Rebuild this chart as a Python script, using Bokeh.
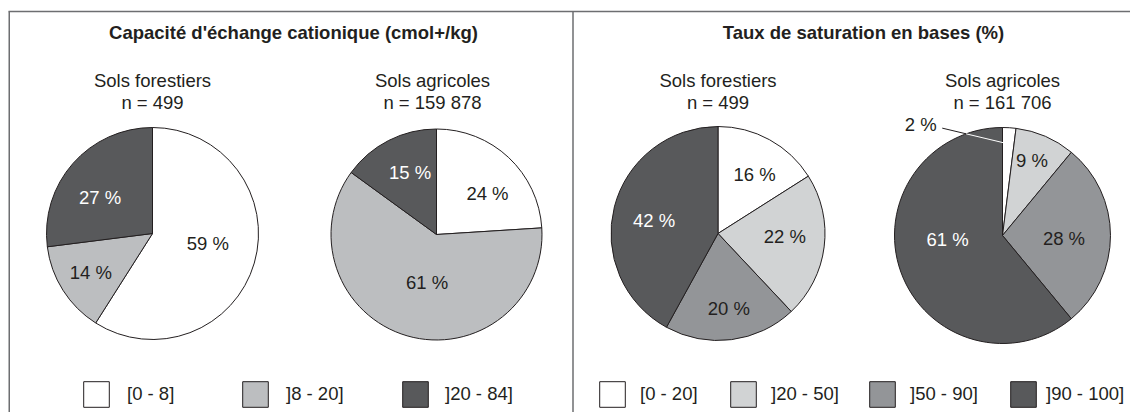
import numpy as np
from bokeh.plotting import figure
from bokeh.models import Range1d, Legend, LegendItem, ColumnDataSource
from bokeh.embed import file_html
from bokeh.resources import INLINE
from bokeh.core.properties import value

# ---------------- data ----------------
panel_titles = ["Capacité d'échange cationique (cmol+/kg)", "Taux de saturation en bases (%)"]
pie_titles = ["Sols forestiers", "Sols agricoles", "Sols forestiers", "Sols agricoles"]
pie_n = [499, 159878, 499, 161706]

cec_classes = ["[0 - 8]", "]8 - 20]", "]20 - 84]"]
cec_forest = [59, 14, 27]
cec_agri = [24, 61, 15]

bs_classes = ["[0 - 20]", "]20 - 50]", "]50 - 90]", "]90 - 100]"]
bs_forest = [16, 22, 20, 42]
bs_agri = [2, 9, 28, 61]

# ---------------- styles ----------------
cec_colors = ["#ffffff", "#bcbec0", "#58595b"]
bs_colors = ["#ffffff", "#d1d3d4", "#939598", "#58595b"]
cec_text = ["#231f20", "#231f20", "#ffffff"]
bs_text = ["#231f20", "#231f20", "#231f20", "#ffffff"]
INK = "#231f20"
FRAME = "#6d6e71"
FONT = value("Liberation Sans")
FS = "18.5px"

W, H = 1130, 412


def PY(y_img):
    return H - y_img


p = figure(width=W, height=H, x_range=Range1d(0, W), y_range=Range1d(0, H),
           output_backend="svg", toolbar_location=None, min_border=0,
           x_axis_type=None, y_axis_type=None)
p.grid.visible = False
p.outline_line_color = None
p.background_fill_color = "white"
p.border_fill_color = "white"

# frame lines
p.segment(x0=[8, 8.75, 572.5], y0=[PY(11), PY(11), PY(11)],
          x1=[W, 8.75, 572.5], y1=[PY(11), 0, 0],
          line_color=FRAME, line_width=1.5)

# pie layout: centre (image px), radius, label placement (radius fraction, angle nudge deg)
pies = [
    dict(cx=152, cy=233, r=106, vals=cec_forest, colors=cec_colors, tcol=cec_text,
         fr=[0.53, 0.69, 0.60], dang=[-6, 0, -7]),
    dict(cx=436, cy=234, r=105.5, vals=cec_agri, colors=cec_colors, tcol=cec_text,
         fr=[0.62, 0.46, 0.64], dang=[8, -5, 4]),
    dict(cx=717.5, cy=233, r=107, vals=bs_forest, colors=bs_colors, tcol=bs_text,
         fr=[0.65, 0.625, 0.71, 0.61], dang=[3, -5, -1, -3]),
    dict(cx=1002, cy=235, r=108, vals=bs_agri, colors=bs_colors, tcol=bs_text,
         fr=[None, 0.75, 0.57, 0.51], dang=[0, -2, 3, 16]),
]

renderers = []
for k, pie in enumerate(pies):
    v = np.array(pie["vals"], dtype=float)
    frac = v / v.sum()
    cum = np.concatenate([[0.0], np.cumsum(frac)])
    start = np.pi / 2 - cum[1:] * 2 * np.pi
    end = np.pi / 2 - cum[:-1] * 2 * np.pi
    n = len(v)
    src = ColumnDataSource(dict(x=[pie["cx"]] * n, y=[PY(pie["cy"])] * n,
                                start=start, end=end, color=pie["colors"]))
    rr = p.wedge(x="x", y="y", radius=pie["r"], start_angle="start", end_angle="end",
                 fill_color="color", line_color=INK, line_width=1, source=src)
    renderers.append(rr)

    # slice labels
    mids = (cum[:-1] + cum[1:]) / 2 * 360.0
    lx, ly, lt, lc = [], [], [], []
    for i in range(n):
        fr = pie["fr"][i]
        if fr is None:
            continue
        th = np.deg2rad(mids[i] + pie["dang"][i])
        lx.append(pie["cx"] + fr * pie["r"] * np.sin(th))
        ly.append(PY(pie["cy"] - fr * pie["r"] * np.cos(th)))
        lt.append(f"{pie['vals'][i]} %")
        lc.append(pie["tcol"][i])
    p.text(x=lx, y=ly, text=lt, text_color=lc, text_align="center",
           text_baseline="middle", text_font=FONT, text_font_size=FS)

    # subtitle
    p.text(x=[pie["cx"] - (4 if k == 1 else 0)] * 2, y=[PY(80), PY(102)],
           text=[pie_titles[k], "n = " + f"{pie_n[k]:,}".replace(",", " ")],
           text_color=INK, text_align="center", text_baseline="middle",
           text_font=FONT, text_font_size=FS)

# external label for the small slice of the last pie, with leader line
pie = pies[3]
v = np.array(pie["vals"], dtype=float)
frac = v / v.sum()
mid0 = np.deg2rad(frac[0] / 2 * 360.0)
cx, cy, r = pie["cx"], pie["cy"], pie["r"]
a0 = np.deg2rad(330.7)
P0 = np.array([cx + 1.14 * r * np.sin(a0), cy - 1.14 * r * np.cos(a0)])
P1 = np.array([cx + 0.85 * r * np.sin(mid0), cy - 0.85 * r * np.cos(mid0)])
d = P1 - P0
f = P0 - np.array([cx, cy])
A = d @ d
B = 2 * f @ d
C = f @ f - r * r
t = (-B - np.sqrt(B * B - 4 * A * C)) / (2 * A)
Pm = P0 + t * d
p.segment(x0=[P0[0]], y0=[PY(P0[1])], x1=[Pm[0]], y1=[PY(Pm[1])], line_color=INK, line_width=1)
p.segment(x0=[Pm[0]], y0=[PY(Pm[1])], x1=[P1[0]], y1=[PY(P1[1])], line_color="#ffffff", line_width=1)
al = np.deg2rad(323.7)
p.text(x=[cx + 1.28 * r * np.sin(al)], y=[PY(cy - 1.28 * r * np.cos(al))],
       text=[f"{pie['vals'][0]} %"], text_color=INK, text_align="center",
       text_baseline="middle", text_font=FONT, text_font_size=FS)

# panel titles
p.text(x=[293, 863], y=[PY(32), PY(32)], text=panel_titles, text_color=INK,
       text_align="center", text_baseline="middle", text_font=FONT,
       text_font_size=FS, text_font_style="bold")

# legends (one item each, positioned)
leg_x_left = [80, 239, 399]
leg_x_right = [596, 727, 866, 1007]
leg_standoff_left = [15, 15, 14]
leg_standoff_right = [12, 12, 12, 7]
LEG_BOTTOM = 410


def add_item(renderer, idx, label, x_img, standoff):
    leg = Legend(items=[LegendItem(label=value(label), renderers=[renderer], index=idx)],
                 location=(x_img, H - LEG_BOTTOM), orientation="horizontal",
                 glyph_width=32, glyph_height=32, label_standoff=standoff,
                 label_text_font="Liberation Sans", label_text_font_size=FS,
                 label_text_color=INK, padding=0, margin=0, spacing=0,
                 border_line_alpha=0, background_fill_alpha=0)
    p.add_layout(leg, "center")


for i, lab in enumerate(cec_classes):
    add_item(renderers[0], i, lab, leg_x_left[i], leg_standoff_left[i])
for i, lab in enumerate(bs_classes):
    add_item(renderers[2], i, lab, leg_x_right[i], leg_standoff_right[i])

open("out.html", "w").write(file_html(p, INLINE))
